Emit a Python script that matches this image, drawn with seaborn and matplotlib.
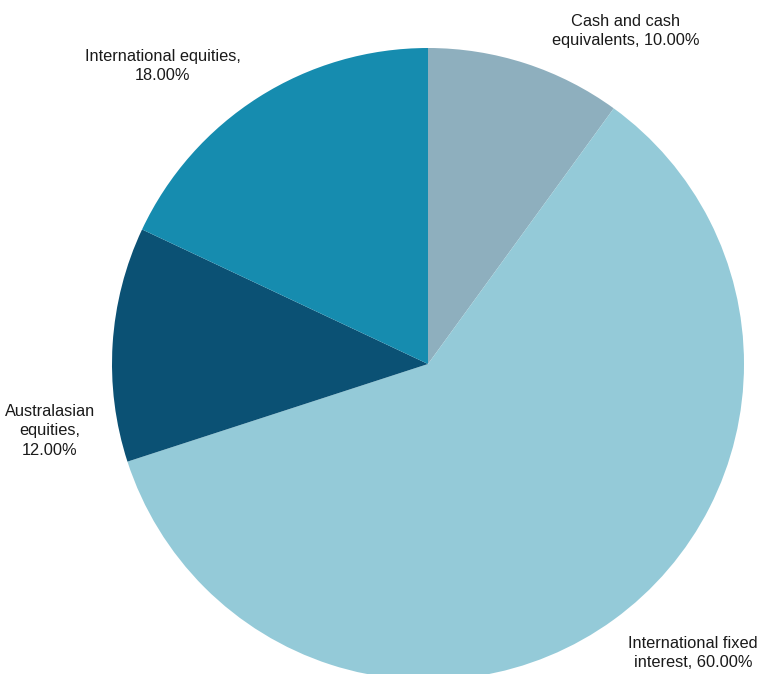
import numpy as np
import pandas as pd
import matplotlib
matplotlib.use("Agg")
import matplotlib.pyplot as plt
import seaborn as sns

# data, clockwise from 12 o'clock
categories = ["Cash and cash\nequivalents", "International fixed\ninterest",
              "Australasian\nequities", "International equities"]
shares = [10.0, 60.0, 12.0, 18.0]
colors = ["#8EAFBE", "#94CAD8", "#0B5174", "#168CAF"]

sns.set_theme(style="white")
plt.rcParams["font.family"] = ["Liberation Sans", "DejaVu Sans"]

W, H = 761, 674
fig = plt.figure(figsize=(W / 100, H / 100), dpi=100)
ax = fig.add_axes([0, 0, 1, 1])

# pie in pixel coordinates (y measured from bottom)
cx, cy, r = 428, H - 364, 316
ax.pie(shares, colors=colors, startangle=90, counterclock=False,
       center=(cx, cy), radius=r, frame=True,
       wedgeprops=dict(edgecolor="none", linewidth=0))
ax.set_xlim(0, W)
ax.set_ylim(0, H)
ax.set_aspect("equal")
ax.axis("off")

# labels
label_pos = [(626, 31), (693, 653), (50, 431), (163, 66)]
for cat, val, (x, y) in zip(categories, shares, label_pos):
    if cat.startswith("Australasian"):
        text = cat + ",\n" + f"{val:.2f}%"
    else:
        text = cat + f", {val:.2f}%" if "\n" in cat else cat + f",\n{val:.2f}%"
    ax.text(x, H - y, text, ha="center", va="center", fontsize=11.8,
            color="#1a1a1a", linespacing=1.4)

fig.savefig("out.png", dpi=100)
